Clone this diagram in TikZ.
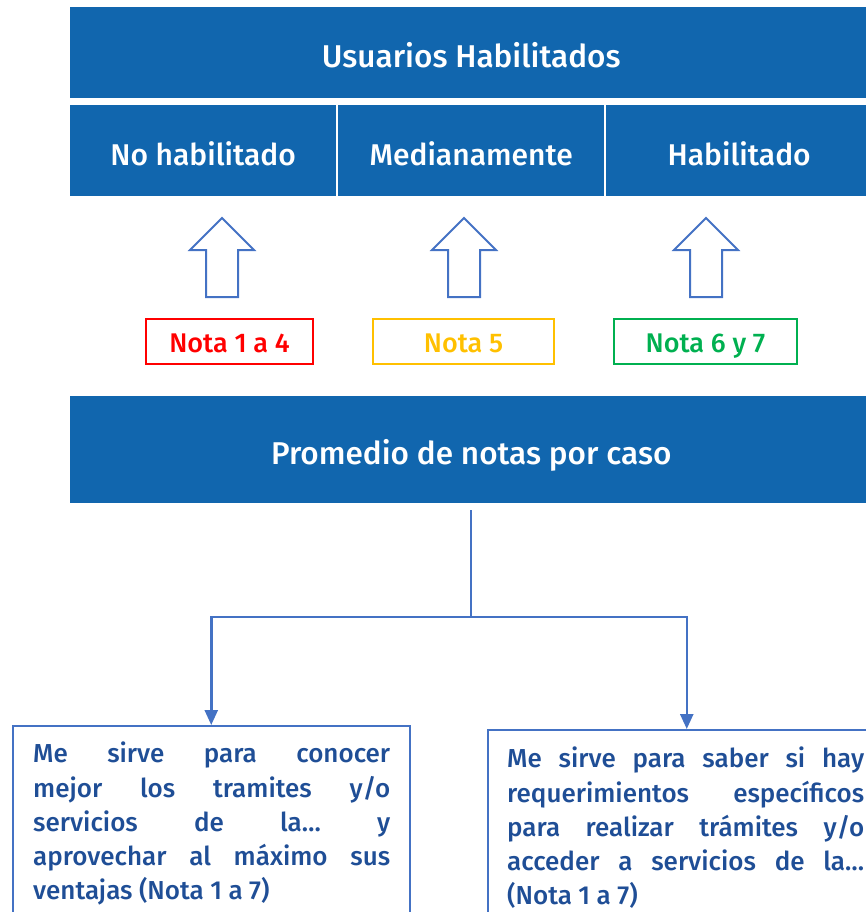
\documentclass[tikz,border=0pt]{standalone}
\usepackage{fontspec}
\setmainfont{Fira Sans Medium}
\usetikzlibrary{arrows.meta}
\definecolor{hdrblue}{RGB}{17,102,174}
\definecolor{lineblue}{RGB}{68,114,196}
\definecolor{txtblue}{RGB}{31,78,150}
\definecolor{nred}{RGB}{255,0,0}
\definecolor{nyellow}{RGB}{255,192,0}
\definecolor{ngreen}{RGB}{0,176,80}
\begin{document}
\begin{tikzpicture}[x=1pt,y=-1pt,
 hdr/.style={fill=hdrblue, text=white, inner sep=0pt, anchor=north west, text depth=0pt, text height=29pt, font=\fontsize{30}{34}\selectfont},
 bighdr/.style={hdr, font=\fontsize{31.5}{36}\selectfont},
 notebox/.style={draw=#1, text=#1, line width=2.5pt, minimum height=45pt, inner sep=0pt, text depth=0pt, text height=22pt, font=\fontsize{27}{30}\selectfont},
 hollow/.style={draw=lineblue, line width=2pt, fill=white, line join=miter},
 conn/.style={draw=lineblue, line width=2.5pt, -{Triangle[width=13pt,length=15pt]}},
 descbox/.style={draw=lineblue, line width=1.5pt, anchor=north west, minimum width=#1, minimum height=220pt, inner sep=0pt},
 desctext/.style={text=txtblue, anchor=north west, inner sep=0pt, align=left, font=\fontsize{26}{34.2}\selectfont}
]
\useasboundingbox (0,0) rectangle (865,912);
% headers
\node[bighdr, minimum width=802pt, minimum height=91pt] (top) at (70,7) {Usuarios Habilitados};
\node[hdr, minimum width=266pt, minimum height=91pt] (nohab) at (70,105) {No habilitado};
\node[hdr, minimum width=266pt, minimum height=91pt] (med) at (338,105) {Medianamente};
\node[hdr, minimum width=266pt, minimum height=91pt] (hab) at (606,105) {Habilitado};
% hollow arrows
\foreach \cx in {222,464,706}{
  \path[hollow] (\cx-16,297) -- (\cx-16,250) -- (\cx-32,250) -- (\cx,218)
     -- (\cx+32,250) -- (\cx+16,250) -- (\cx+16,297) -- cycle;
}
% note boxes
\node[notebox=nred, minimum width=167pt] (n14) at (229.5,341.5) {Nota 1 a 4};
\node[notebox=nyellow, minimum width=181pt] (n5) at (463.5,341.5) {Nota 5};
\node[notebox=ngreen, minimum width=183pt] (n67) at (705.5,341.5) {Nota 6 y 7};
% promedio
\node[bighdr, minimum width=802pt, minimum height=107pt] (prom) at (70,396) {Promedio de notas por caso};
% description boxes
\node[descbox=397pt] (left) at (12,725) {};
\node[descbox=398pt] (right) at (487,729) {};
\node[desctext] (lefttxt) at (33,742) {\rule{0pt}{18pt}\makebox[357pt][s]{Me sirve para conocer}\\
\makebox[357pt][s]{mejor los tramites y/o}\\
\makebox[357pt][s]{servicios de la… y}\\
\makebox[357pt][s]{aprovechar al máximo sus}\\
ventajas (Nota 1 a 7)};
\node[desctext] (righttxt) at (507,747) {\rule{0pt}{18pt}\makebox[357pt][s]{Me sirve para saber si hay}\\
\makebox[357pt][s]{requerimientos específicos}\\
\makebox[357pt][s]{para realizar trámites y/o}\\
\makebox[357pt][s]{acceder a servicios de la…}\\
(Nota 1 a 7)};
% connectors
\coordinate (split) at (471,617);
\draw[draw=lineblue, line width=2.5pt] ([yshift=-7pt]prom.south -| split) -- (split);
\draw[conn] (split) -| (left.north);
\draw[conn] (split) -| (right.north);
\end{tikzpicture}
\end{document}
